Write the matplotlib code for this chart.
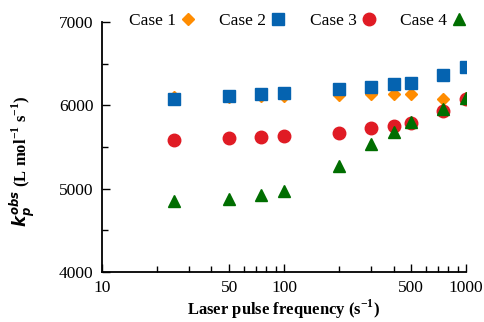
import matplotlib
matplotlib.use("Agg")
import matplotlib.pyplot as plt
from matplotlib.ticker import FixedLocator, NullFormatter, FixedFormatter

freq = [25, 50, 75, 100, 200, 300, 400, 500, 750, 1000]
case1 = [6100, 6105, 6110, 6115, 6120, 6140, 6135, 6130, 6080, 6085]
case2 = [6070, 6110, 6130, 6145, 6190, 6225, 6250, 6265, 6365, 6460]
case3 = [5580, 5610, 5620, 5630, 5670, 5730, 5750, 5790, 5930, 6080]
case4 = [4850, 4875, 4920, 4975, 5275, 5535, 5680, 5800, 5950, 6090]
xticks = [10, 50, 100, 500, 1000]
yticks = [4000, 5000, 6000, 7000]

plt.rcParams['font.family'] = ['Liberation Serif', 'DejaVu Serif']
plt.rcParams['mathtext.fontset'] = 'custom'
plt.rcParams['mathtext.it'] = 'DejaVu Sans:italic:bold'
plt.rcParams['mathtext.rm'] = 'Liberation Serif:bold'

fig = plt.figure(figsize=(4.85, 3.22), dpi=100)
ax = fig.add_axes([0.21, 0.155, 0.751, 0.777])

ax.plot(freq, case1, linestyle='none', marker='D', color='#FF8C00', markersize=6.0, label='Case 1')
ax.plot(freq, case2, linestyle='none', marker='s', color='#0563B0', markersize=8.5, label='Case 2')
ax.plot(freq, case3, linestyle='none', marker='o', color='#E01B24', markersize=9, label='Case 3')
ax.plot(freq, case4, linestyle='none', marker='^', color='#006E00', markersize=8, label='Case 4')

ax.set_xscale('log')
ax.set_xlim(10, 1000)
ax.set_ylim(4000, 7000)
ax.xaxis.set_major_locator(FixedLocator(xticks))
ax.xaxis.set_major_formatter(FixedFormatter([str(t) for t in xticks]))
ax.xaxis.set_minor_locator(FixedLocator([20, 30, 40, 60, 70, 80, 90, 200, 300, 400, 600, 700, 800, 900]))
ax.xaxis.set_minor_formatter(NullFormatter())
ax.set_yticks(yticks)
ax.yaxis.set_minor_locator(FixedLocator([4500, 5500, 6500]))

ax.tick_params(which='both', direction='in', labelsize=12.5, width=1.0)
ax.tick_params(which='major', length=6)
ax.tick_params(which='minor', length=4)
ax.tick_params(axis='x', pad=6)
ax.tick_params(axis='y', pad=6)
for s in ['top', 'right']:
    ax.spines[s].set_visible(False)
for s in ['left', 'bottom']:
    ax.spines[s].set_linewidth(1.3)

fig.text(0.585, 0.003, 'Laser pulse frequency (s$^{\\mathregular{-1}}$)', ha='center', va='bottom',
         fontsize=12, fontweight='bold')
fig.text(0.045, 0.50, '$k_p^{obs}$ (L mol$^{\\mathregular{-1}}$ s$^{\\mathregular{-1}}$)',
         rotation=90, ha='center', va='center', fontsize=12, fontweight='bold')

leg = ax.legend(loc='center', bbox_to_anchor=(0.615, 0.935), bbox_transform=fig.transFigure,
                ncol=4, frameon=False, markerfirst=False, fontsize=12.5,
                handletextpad=0.2, columnspacing=1.3, handlelength=1.0)

fig.savefig('out.png', dpi=100)
